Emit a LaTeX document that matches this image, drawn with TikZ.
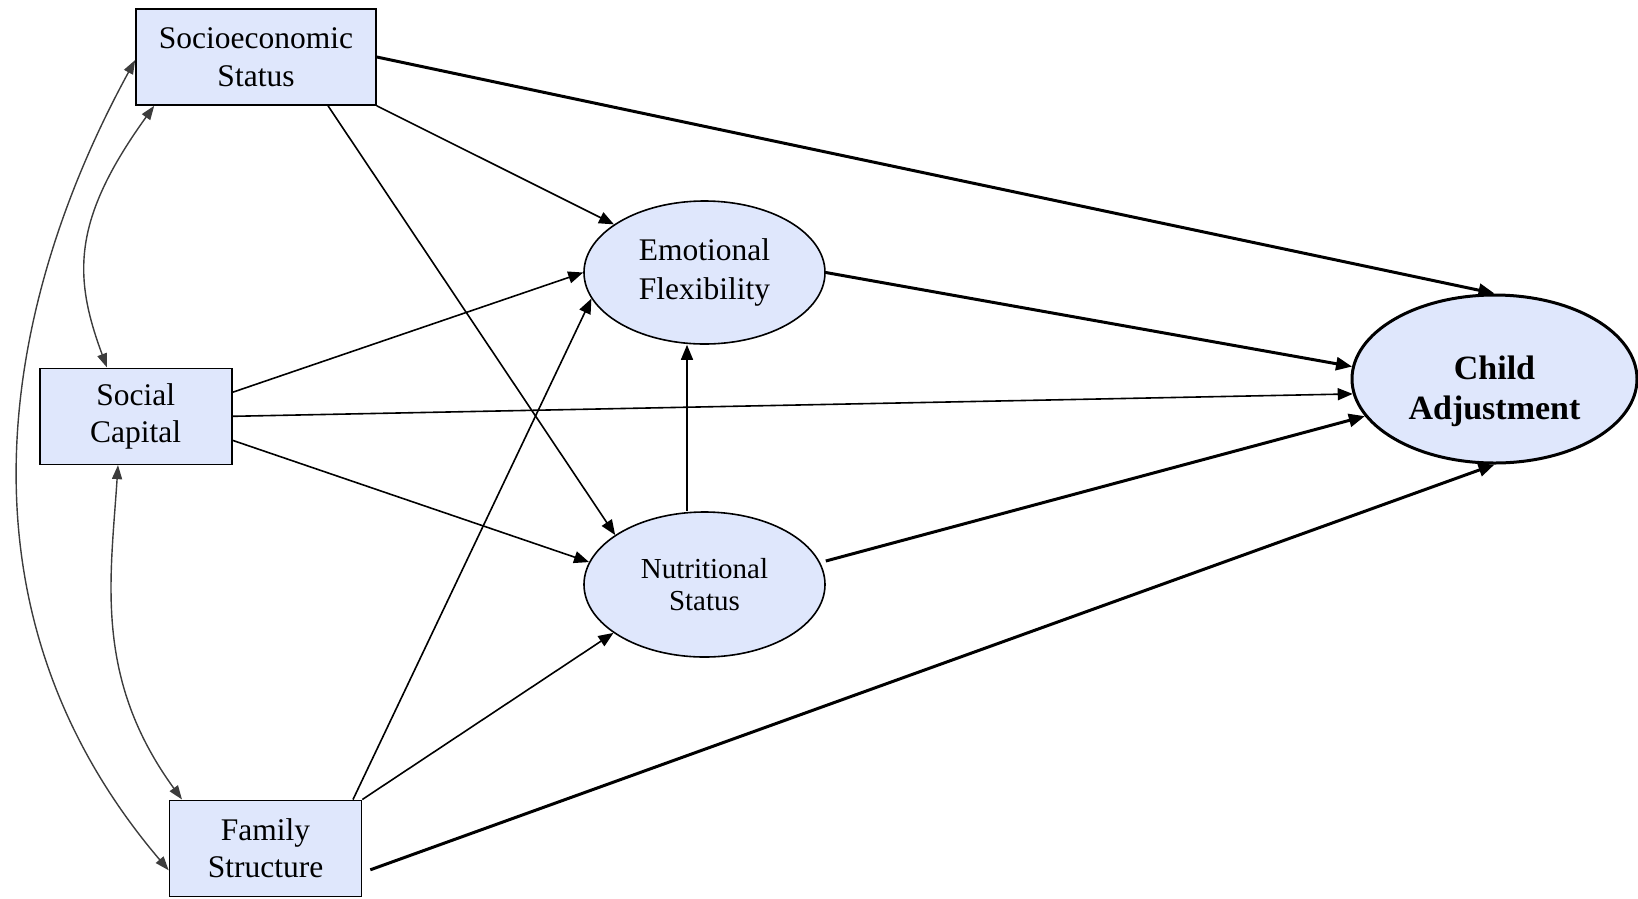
\documentclass[tikz,border=0pt]{standalone}
\usepackage{fontspec}
\setmainfont{Liberation Serif}
\usetikzlibrary{arrows.meta,shapes.geometric,calc}
\definecolor{boxfill}{RGB}{223,231,252}
\definecolor{curvegray}{RGB}{60,60,60}
\tikzset{
  varbox/.style={draw=black,line width=1.6pt,fill=boxfill,rectangle,inner sep=0pt,align=center,
    font=\fontsize{31.5}{37.5}\selectfont},
  latent/.style={draw=black,line width=1.6pt,fill=boxfill,ellipse,inner sep=0pt,align=center},
  paththin/.style={draw=black,line width=1.6pt,-{Triangle[length=15pt,width=12pt]}},
  paththick/.style={draw=black,line width=3pt,-{Triangle[length=16pt,width=13pt]}},
  covpath/.style={draw=curvegray,line width=1.4pt,{Triangle[length=14pt,width=10pt]}-{Triangle[length=14pt,width=10pt]}},
}
\begin{document}
\begin{tikzpicture}[x=1pt,y=-1pt]
\useasboundingbox (0,0) rectangle (1638,898);
% nodes
\node[varbox,minimum width=240pt,minimum height=96pt] (SES) at (256,57) {Socioeconomic\\Status};
\node[varbox,minimum width=192pt,minimum height=96pt] (SC) at (135.7,416.3) {Social\\Capital};
\node[varbox,minimum width=192pt,minimum height=96pt] (FS) at (265.5,848.3) {Family\\Structure};
\node[latent,minimum width=241pt,minimum height=143pt,font=\fontsize{31.5}{38.5}\selectfont] (EF) at (704.5,272.5) {Emotional\\Flexibility};
\node[latent,minimum width=241pt,minimum height=145pt,font=\fontsize{29}{32.5}\selectfont] (NS) at (704.5,584.5) {Nutritional\\Status};
\node[latent,line width=3pt,minimum width=285pt,minimum height=168pt] (Child) at (1494.5,379) {};
\node[align=center,inner sep=0pt,font=\fontsize{34}{40}\selectfont\bfseries] (childtxt) at (1494.5,391) {Child\\Adjustment};
% covariance curves
\draw[covpath] ($(SES.west)+(0,3)$) .. controls (10,289) and (-62,599) .. ($(FS.west)+(0,22)$);
\draw[covpath] ($(SES.south west)+(19,0)$) .. controls (72,220) and (73,276) .. ($(SC.north)+(-28.7,0)$);
\draw[covpath] ($(SC.south)+(-17.7,0)$) .. controls (110.5,580) and (93.7,678) .. ($(FS.north)+(-83.5,0)$);
% paths from SES
\draw[paththick] (SES.east) -- (Child.north);
\draw[paththin] (SES.south east) -- (EF.152);
\draw[paththin] ($(SES.south)+(72,0)$) -- (NS.151);
% paths from SC
\draw[paththin] ($(SC.east)+(0,-24)$) -- (EF.west);
\draw[paththin] (SC.east) -- (Child.186);
\draw[paththin] ($(SC.east)+(0,24)$) -- (NS.169);
% paths from FS
\draw[paththin] ($(FS.north)+(87.5,0)$) -- (EF.193);
\draw[paththin] (FS.north east) -- (NS.208);
\draw[paththick] ($(FS.east)+(8,21.5)$) -- (Child.south);
% mediators
\draw[paththin] ($(NS.north)+(-17.5,0)$) -- ($(EF.south)+(-17.5,0)$);
\draw[paththick] (EF.east) -- (Child.175);
\draw[paththick] ($(NS.east)+(0,-23.5)$) -- (Child.196);
\end{tikzpicture}
\end{document}
